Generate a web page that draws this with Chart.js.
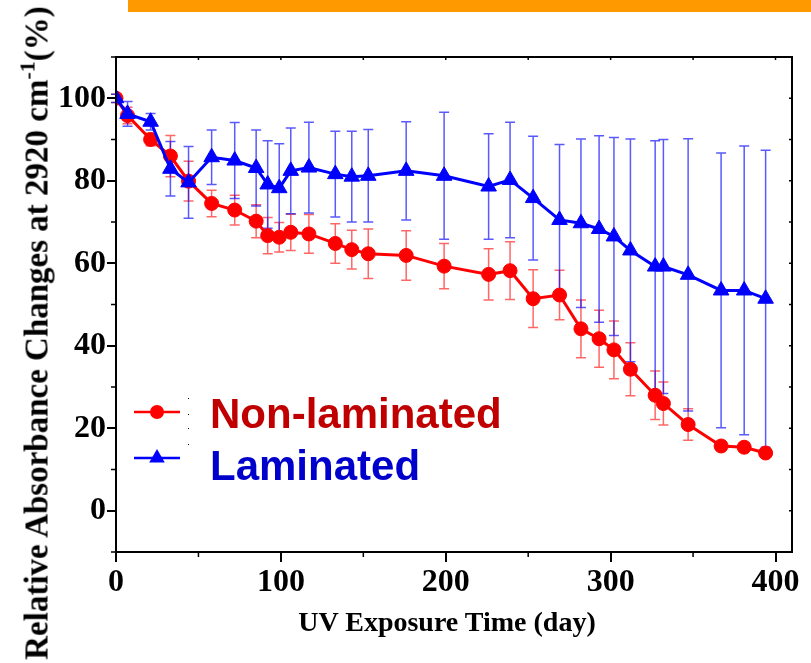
<!DOCTYPE html>
<html><head><meta charset="utf-8">
<script src="https://cdn.jsdelivr.net/npm/chart.js@4/dist/chart.umd.min.js"></script>
<style>
html,body{margin:0;padding:0;background:#fff;}
#wrap{position:relative;width:811px;height:663px;overflow:hidden;background:#fff;}
#bar{position:absolute;left:128px;top:0;width:683px;height:12px;background:#FF9900;}
#ytitle{position:absolute;left:37px;top:333px;transform:translate(-50%,-50%) rotate(-90deg);white-space:nowrap;font:bold 33px "Liberation Serif";color:#000;}
#ytitle sup{font-size:22px;vertical-align:0;position:relative;top:-13px;}
#xtitle{position:absolute;left:447px;top:622px;transform:translate(-50%,-50%);white-space:nowrap;font:bold 28px "Liberation Serif";color:#000;}
canvas{position:absolute;left:0;top:0;}
</style></head>
<body><div id="wrap"><canvas id="c" width="811" height="663"></canvas><div id="bar"></div><div id="ytitle">Relative Absorbance Changes at 2920 cm<sup>-1</sup>(%)</div><div id="xtitle">UV Exposure Time (day)</div></div>
<script>
const days = [0, 7, 21, 33, 44, 58, 72, 85, 92, 99, 106, 117, 133, 143, 153, 176, 199, 226, 239, 253, 269, 282, 293, 302, 312, 327, 332, 347, 367, 381, 394];
const nonLaminated = [100, 95.8, 90, 86, 79.9, 74.5, 72.9, 70.2, 66.7, 66.3, 67.5, 67.1, 64.8, 63.3, 62.3, 61.9, 59.3, 57.3, 58.2, 51.4, 52.3, 44.1, 41.7, 39, 34.3, 28, 26, 20.9, 15.7, 15.4, 14];
const nonLaminatedErr = [1, 2, 1.5, 5, 4.8, 3.2, 3.6, 4, 4.4, 3.6, 4.4, 4.7, 4.8, 4.7, 6, 6, 5.5, 6.2, 7, 7, 6, 7, 6.9, 7, 6.4, 5.9, 5.2, 3.8, 1, 1, 1];
const laminated = [100, 96.2, 94.3, 82.9, 79.6, 85.7, 84.9, 83.1, 79.1, 78.2, 82.4, 83.2, 81.6, 81, 81.2, 82.4, 81.2, 78.6, 80.2, 75.8, 70.5, 69.7, 68.3, 66.5, 63.1, 59.2, 59.2, 57.2, 53.4, 53.4, 51.4];
const laminatedErr = [1, 3, 2, 6.6, 8.7, 6.6, 9.2, 9.2, 10.6, 10.8, 10.4, 11, 10.4, 11, 11.2, 11.9, 15.4, 12.8, 14, 15, 18.3, 20.4, 22.6, 24, 27, 30.5, 30.8, 33, 33.3, 35, 36];
const xTickValues = [0, 100, 200, 300, 400];
const xMinorValues = [50, 150, 250, 350];
const yTickValues = [0, 20, 40, 60, 80, 100];
const yMinorValues = [-10, 10, 30, 50, 70, 90, 110];
const seriesNames = ['Non-laminated', 'Laminated'];

const toPts = (ys) => days.map((d, i) => ({x: d, y: ys[i]}));

function drawErr(ctx, xs, ys, vals, errs, color) {
  ctx.strokeStyle = color;
  ctx.lineWidth = 1.5;
  const cap = 5;
  days.forEach((d, i) => {
    const px = xs.getPixelForValue(d);
    const top = ys.getPixelForValue(vals[i] + errs[i]);
    const bot = ys.getPixelForValue(vals[i] - errs[i]);
    ctx.beginPath();
    ctx.moveTo(px, top); ctx.lineTo(px, bot);
    ctx.moveTo(px - cap, top); ctx.lineTo(px + cap, top);
    ctx.moveTo(px - cap, bot); ctx.lineTo(px + cap, bot);
    ctx.stroke();
  });
}

const extras = {
  id: 'extras',
  beforeDatasetsDraw(chart) {
    const {ctx, scales: {x, y}} = chart;
    ctx.save();
    drawErr(ctx, x, y, nonLaminated, nonLaminatedErr, 'rgba(255,0,0,0.6)');
    drawErr(ctx, x, y, laminated, laminatedErr, 'rgba(0,0,255,0.65)');
    ctx.restore();
  },
  afterDraw(chart) {
    const {ctx, chartArea: a, scales: {x, y}} = chart;
    ctx.save();
    ctx.strokeStyle = '#000';
    ctx.lineWidth = 2;
    ctx.strokeRect(a.left, a.top, a.right - a.left, a.bottom - a.top);
    ctx.lineWidth = 1.5;
    ctx.beginPath();
    xMinorValues.forEach(v => { const p = x.getPixelForValue(v); ctx.moveTo(p, a.bottom); ctx.lineTo(p, a.bottom + 5); });
    xMinorValues.concat(xTickValues).forEach(v => { const p = x.getPixelForValue(v); ctx.moveTo(p, a.top); ctx.lineTo(p, a.top + 3); });
    yMinorValues.forEach(v => { const p = y.getPixelForValue(v); ctx.moveTo(a.left, p); ctx.lineTo(a.left - 5, p); });
    yMinorValues.concat(yTickValues).forEach(v => { const p = y.getPixelForValue(v); ctx.moveTo(a.right, p); ctx.lineTo(a.right - 3, p); });
    ctx.stroke();

    const items = [
      {name: seriesNames[0], line: '#FF0000', text: '#C00000', ly: 412, ty: 428, shape: 'circle'},
      {name: seriesNames[1], line: '#0000FF', text: '#0000CC', ly: 458, ty: 480, shape: 'triangle'}
    ];
    items.forEach(it => {
      ctx.strokeStyle = it.line; ctx.lineWidth = 2.5;
      ctx.beginPath(); ctx.moveTo(134, it.ly); ctx.lineTo(180, it.ly); ctx.stroke();
      ctx.fillStyle = it.line;
      ctx.beginPath();
      if (it.shape === 'circle') { ctx.arc(157, it.ly, 7, 0, Math.PI * 2); }
      else { const r = 9; ctx.moveTo(157, it.ly - r); ctx.lineTo(157 + r * 0.866, it.ly + r / 2); ctx.lineTo(157 - r * 0.866, it.ly + r / 2); ctx.closePath(); }
      ctx.fill();
      ctx.fillStyle = it.text;
      ctx.font = 'bold 42px "Liberation Sans", Arial, sans-serif';
      ctx.textBaseline = 'alphabetic';
      ctx.textAlign = 'left';
      ctx.fillText(it.name, 210, it.ty);
    });
    ctx.fillStyle = '#000';
    [398, 414, 428, 444].forEach(yy => ctx.fillRect(188, yy, 1, 1));
    ctx.restore();
  }
};

new Chart(document.getElementById('c'), {
  type: 'line',
  data: {
    datasets: [
      {label: seriesNames[0], data: toPts(nonLaminated), borderColor: '#FF0000', backgroundColor: '#FF0000', borderWidth: 3, pointStyle: 'circle', pointRadius: 7, pointBorderWidth: 1, order: 2, tension: 0},
      {label: seriesNames[1], data: toPts(laminated), borderColor: '#0000FF', backgroundColor: '#0000FF', borderWidth: 3, pointStyle: 'triangle', pointRadius: 9, pointBorderWidth: 1, order: 1, tension: 0}
    ]
  },
  options: {
    responsive: false,
    animation: false,
    devicePixelRatio: 1,
    layout: {padding: {left: 0, top: 57, right: 19, bottom: 0}},
    plugins: {legend: {display: false}, tooltip: {enabled: false}},
    scales: {
      x: {
        type: 'linear', min: 0, max: 410,
        afterBuildTicks: s => { s.ticks = xTickValues.map(v => ({value: v})); },
        afterFit: s => { s.height = 111; },
        grid: {drawOnChartArea: false, drawTicks: true, tickLength: 10, color: '#000', lineWidth: 2},
        border: {display: false},
        ticks: {color: '#000', padding: 2, maxRotation: 0, font: {family: '"Liberation Serif", serif', weight: 'bold', size: 32}},
        title: {display: false}
      },
      y: {
        type: 'linear', min: -10, max: 110,
        afterBuildTicks: s => { s.ticks = yTickValues.map(v => ({value: v})); },
        afterFit: s => { s.width = 116; },
        grid: {drawOnChartArea: false, drawTicks: true, tickLength: 9, color: '#000', lineWidth: 2},
        border: {display: false},
        ticks: {color: '#000', padding: 1, font: {family: '"Liberation Serif", serif', weight: 'bold', size: 32}}
      }
    }
  },
  plugins: [extras]
});
</script>
</body></html>
